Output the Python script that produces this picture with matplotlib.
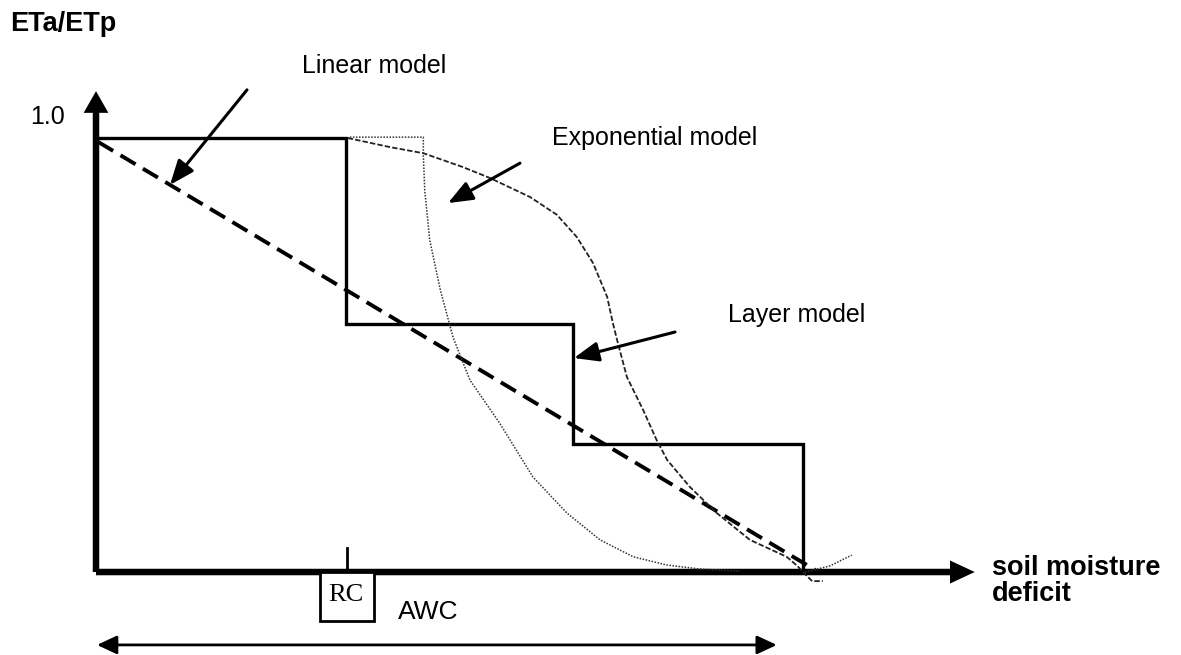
import numpy as np
import matplotlib.pyplot as plt
from matplotlib.patches import Rectangle

# Data units: x = soil moisture deficit (layer model ends at 100), y = ETa/ETp
# Layer model (step function)
layer_x = [0, 35.4, 35.4, 67.5, 67.5, 100, 100]
layer_y = [1.0, 1.0, 0.571, 0.571, 0.295, 0.295, 0.0]

# Linear model
linear_x = [0.3, 101.7]
linear_y = [0.991, 0.005]

# Exponential model (wavy dashed curve)
expo_x = [35.6, 41.6, 46.3, 51.9, 55.7, 61.4, 65.2, 68.0, 70.3, 72.3, 73.1, 73.7,
          75.1, 77.4, 79.3, 80.8, 84.0, 87.8, 92.5, 97.7, 99.2, 100.3, 101.3, 102.8]
expo_y = [1.0, 0.979, 0.965, 0.933, 0.908, 0.864, 0.823, 0.772, 0.712, 0.634, 0.574, 0.535,
          0.449, 0.373, 0.304, 0.258, 0.196, 0.136, 0.074, 0.035, 0.014, -0.005, -0.021, -0.021]

# Dotted curve
dot_x = [35.9, 46.3, 46.3, 46.5, 47.2, 48.7, 50.5, 52.9, 57.1, 61.8, 66.6, 71.3, 76.0, 80.8,
         85.4, 91.1]
dot_y = [1.002, 1.002, 0.960, 0.880, 0.765, 0.650, 0.541, 0.442, 0.343, 0.219, 0.136, 0.074,
         0.035, 0.016, 0.007, 0.002]
dot_tail_x = [100.3, 103.8, 106.9]
dot_tail_y = [0.0, 0.014, 0.039]

rc_x = 35.5
awc_x = [0.14, 96.3]

fig = plt.figure(figsize=(11.81, 6.55), dpi=100)
ax = fig.add_axes([0, 0, 1, 1])
ax.set_xlim(-13.58, 153.47)
ax.set_ylim(-0.1912, 1.318)
ax.axis("off")

sans = "Liberation Sans"

# Curves
ax.plot(layer_x, layer_y, color="black", lw=2.4, solid_joinstyle="miter")
ax.plot(linear_x, linear_y, color="black", lw=2.8, dashes=(4.5, 2.2))
ax.plot(expo_x, expo_y, color="#222222", lw=1.3, dashes=(3, 1.2))
ax.plot(dot_x, dot_y, color="#333333", lw=1.1, linestyle=(0, (1, 1)))
ax.plot(dot_tail_x, dot_tail_y, color="#333333", lw=1.1, linestyle=(0, (1, 1)))

# Axes with arrows
ax.arrow(0, 0, 124.3, 0, width=0.015, head_width=0.053, head_length=3.5,
         length_includes_head=True, color="black", lw=0)
ax.arrow(0, 0, 0, 1.108, width=0.92, head_width=3.5, head_length=0.05,
         length_includes_head=True, color="black", lw=0)

# RC tick and box
ax.plot([rc_x, rc_x], [0, 0.055], color="black", lw=2)
ax.add_patch(Rectangle((31.7, -0.113), 7.6, 0.113, fc="white", ec="black", lw=2, zorder=3))
ax.text(35.4, -0.053, "RC", family="Liberation Serif", fontsize=19, ha="center", va="center",
        zorder=4)
ax.text(42.7, -0.092, "AWC", family=sans, fontsize=19, ha="left", va="center")

# AWC double arrow
ax.annotate("", xy=(awc_x[0], -0.168), xytext=(awc_x[1], -0.168),
            arrowprops=dict(arrowstyle="<|-|>,head_length=0.6,head_width=0.28",
                            lw=2, color="black", shrinkA=0, shrinkB=0, mutation_scale=20))

# Labels with pointer arrows
arrow_kw = dict(arrowstyle="-|>,head_length=0.75,head_width=0.3", lw=2.2, color="black",
                shrinkA=0, shrinkB=0, mutation_scale=20)
ax.annotate("", xy=(10.47, 0.892), xytext=(21.36, 1.111), arrowprops=arrow_kw)
ax.annotate("", xy=(49.79, 0.850), xytext=(59.97, 0.942), arrowprops=arrow_kw)
ax.annotate("", xy=(67.6, 0.493), xytext=(81.9, 0.553), arrowprops=arrow_kw)

ax.text(29.1, 1.166, "Linear model", family=sans, fontsize=18, ha="left", va="center")
ax.text(64.5, 1.0, "Exponential model", family=sans, fontsize=18, ha="left", va="center")
ax.text(89.4, 0.592, "Layer model", family=sans, fontsize=18, ha="left", va="center")
ax.text(-4.4, 1.048, "1.0", family=sans, fontsize=18, ha="right", va="center")
ax.text(-12.2, 1.263, "ETa/ETp", family=sans, fontsize=19.5, fontweight="bold",
        ha="left", va="center")
ax.text(126.7, -0.021, "soil moisture\ndeficit", family=sans, fontsize=19.5,
        fontweight="bold", ha="left", va="center", linespacing=1.0)

fig.savefig("out.png", dpi=100)
